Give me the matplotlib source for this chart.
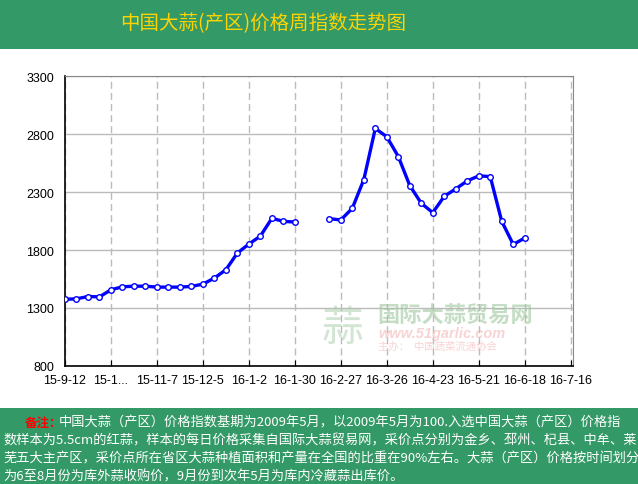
import numpy as np
import pandas as pd
import matplotlib
matplotlib.use("Agg")
import matplotlib.pyplot as plt

plt.rcParams['font.family'] = ['Liberation Sans', 'Noto Sans CJK SC', 'DejaVu Sans']

# weekly index values, nan = no quote (Spring Festival weeks)
weeks = pd.date_range("2015-09-12", periods=41, freq="7D")
index_values = [1375, 1379, 1399, 1396, 1457, 1483, 1488, 1488, 1480, 1480,
                1480, 1486, 1506, 1558, 1630, 1774, 1851, 1920, 2073, 2047,
                2041, np.nan, np.nan, 2070, 2059, 2160, 2407, 2848, 2776, 2606,
                2355, 2203, 2122, 2263, 2327, 2396, 2439, 2433, 2047, 1848,
                1903]
tick_labels = ["15-9-12", "15-1...", "15-11-7", "15-12-5", "16-1-2", "16-1-30",
               "16-2-27", "16-3-26", "16-4-23", "16-5-21", "16-6-18", "16-7-16"]
y_ticks = [800, 1300, 1800, 2300, 2800, 3300]

title = "中国大蒜(产区)价格周指数走势图"
note_head = "备注："
note_lines = [
    "中国大蒜（产区）价格指数基期为2009年5月，以2009年5月为100.入选中国大蒜（产区）价格指",
    "数样本为5.5cm的红蒜，样本的每日价格采集自国际大蒜贸易网，采价点分别为金乡、邳州、杞县、中牟、莱",
    "芜五大主产区，采价点所在省区大蒜种植面积和产量在全国的比重在90%左右。大蒜（产区）价格按时间划分",
    "为6至8月份为库外蒜收购价，9月份到次年5月为库内冷藏蒜出库价。",
]

green = "#339966"
W, H = 638, 485
fig = plt.figure(figsize=(W / 100, H / 100), dpi=100)

# header band
fig.patches.append(plt.Rectangle((0, 1 - 50 / H), 1, 50 / H, transform=fig.transFigure,
                                 facecolor=green, edgecolor="none", zorder=0))
fig.text(263 / W, 1 - 24 / H, title, color="#FFD400", fontsize=14,
         ha="center", va="center", family=["Noto Sans CJK SC"])

# note band
fig.patches.append(plt.Rectangle((0, 0), 1, 76 / H, transform=fig.transFigure,
                                 facecolor=green, edgecolor="none", zorder=0))
line_y = [423, 441, 459, 477]
fig.text(25 / W, 1 - line_y[0] / H, note_head, color="red", fontsize=9,
         fontweight="bold", va="center", family=["Noto Sans CJK SC"])
for i, line in enumerate(note_lines):
    x0 = 59 if i == 0 else 3
    fig.text(x0 / W, 1 - line_y[i] / H, line, color="white", fontsize=9.5,
             va="center", family=["Noto Sans CJK SC"])

ax = fig.add_axes([65 / W, (H - 367) / H, 508 / W, 290 / H])
pos = np.arange(len(weeks))
ax.plot(pos, index_values, color="#0000FF", lw=2.4, marker="o", ms=4,
        mfc="white", mec="#0000FF", mew=1, zorder=3)

ax.set_xlim(0, 44.2)
ax.set_ylim(800, 3300)
ax.set_yticks(y_ticks)
ax.set_xticks(np.arange(0, 45, 4))
ax.set_xticklabels(tick_labels)
ax.tick_params(axis="both", labelsize=9, length=4, direction="in", color="black")
ax.tick_params(axis="x", pad=6)
ax.tick_params(axis="y", length=0, pad=8)
ax.yaxis.grid(True, color="#BBBBBB", lw=1)
ax.xaxis.grid(True, color="#BBBBBB", lw=1, ls=(0, (5, 3)))
ax.set_axisbelow(True)
for s in ["top", "right"]:
    ax.spines[s].set_color("#888888")
ax.spines["left"].set_color("black")
ax.spines["bottom"].set_color("black")
ax.spines["left"].set_linewidth(1.2)
ax.spines["bottom"].set_linewidth(1.2)

# watermark
fig.text(342 / W, 1 - 329 / H, "蒜", color="#9DC79D", alpha=0.45, fontsize=30,
         ha="center", va="center", family=["Noto Sans CJK SC"])
fig.text(377 / W, 1 - 316 / H, "国际大蒜贸易网", color="#9DC79D", alpha=0.6,
         fontsize=16, va="center", family=["Noto Sans CJK SC"], fontweight="bold")
fig.text(378 / W, 1 - 334 / H, "www.51garlic.com", color="#F4B6B6", alpha=0.6,
         fontsize=10.5, va="center", style="italic", fontweight="bold")
fig.text(378 / W, 1 - 347 / H, "主办：  中国蔬菜流通协会", color="#F4B6B6", alpha=0.6,
         fontsize=7.5, va="center", family=["Noto Sans CJK SC"])

fig.savefig("out.png", dpi=100)
